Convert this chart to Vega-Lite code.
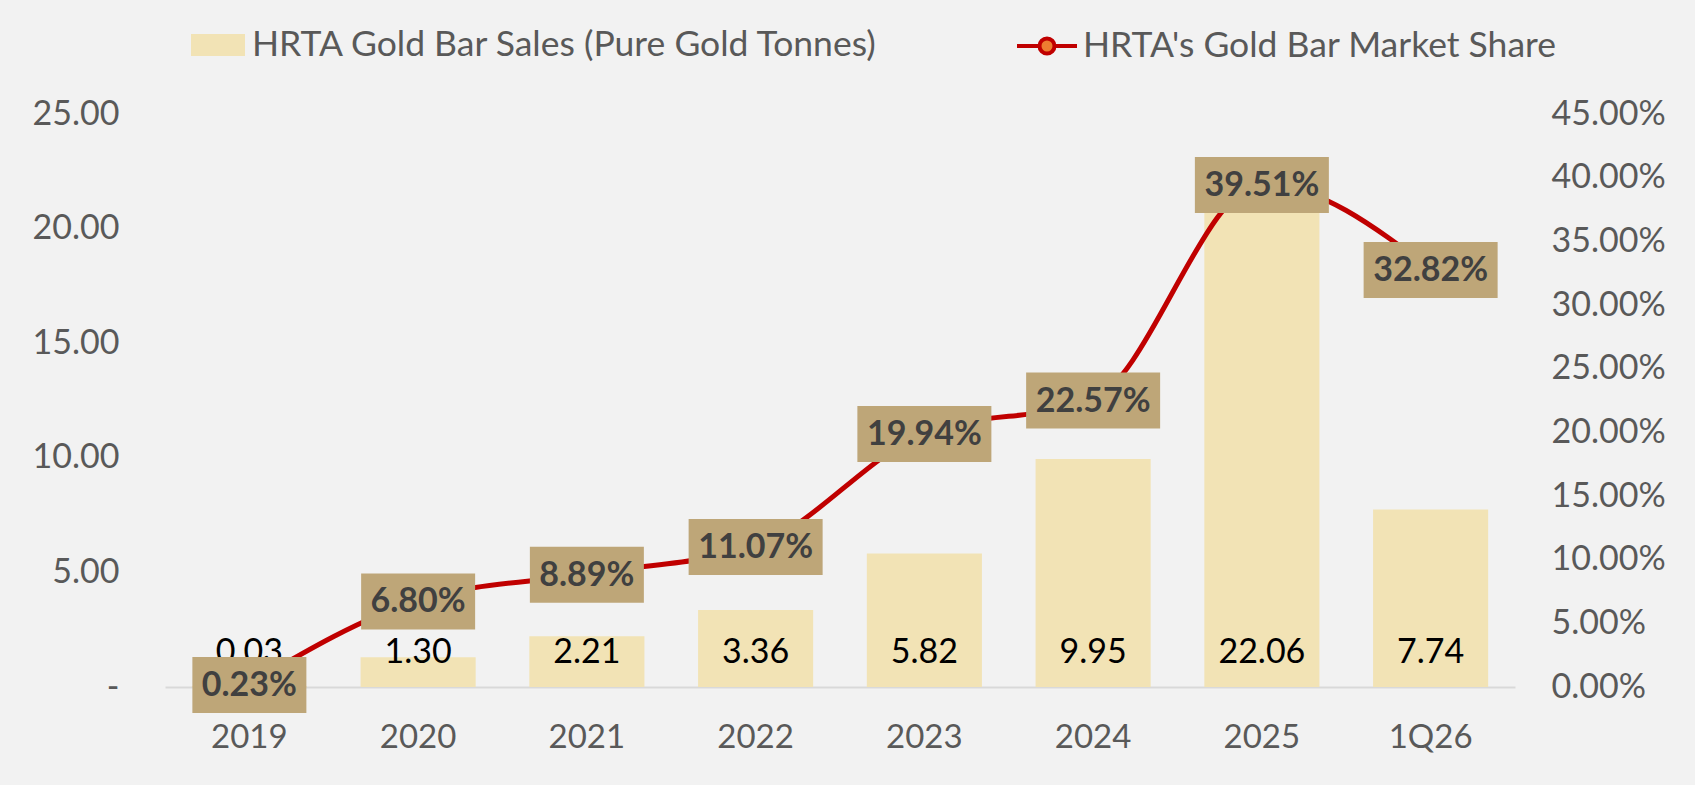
{
  "$schema": "https://vega.github.io/schema/vega-lite/v6.json",
  "width": 1350,
  "height": 573,
  "autosize": {"type": "none"},
  "padding": {"left": 165, "top": 114, "right": 180, "bottom": 98},
  "background": "#f2f2f2",
  "config": {
    "font": "Lato",
    "view": {"stroke": null},
    "axis": {"grid": false, "ticks": false, "tickSize": 0, "labelFont": "Lato", "labelColor": "#595959", "title": null}
  },
  "data": {
    "values": [
      {"period": "2019", "tonnes": 0.03, "share": 0.0023},
      {"period": "2020", "tonnes": 1.30, "share": 0.0680},
      {"period": "2021", "tonnes": 2.21, "share": 0.0889},
      {"period": "2022", "tonnes": 3.36, "share": 0.1107},
      {"period": "2023", "tonnes": 5.82, "share": 0.1994},
      {"period": "2024", "tonnes": 9.95, "share": 0.2257},
      {"period": "2025", "tonnes": 22.06, "share": 0.3951},
      {"period": "1Q26", "tonnes": 7.74, "share": 0.3282}
    ]
  },
  "encoding": {
    "x": {
      "field": "period",
      "type": "ordinal",
      "sort": null,
      "scale": {"paddingInner": 0.318, "paddingOuter": 0.159},
      "axis": {"labelAngle": 0, "labelFontSize": 33, "labelPadding": 34, "domainColor": "#d9d9d9", "domainWidth": 2}
    }
  },
  "layer": [
    {
      "layer": [
        {
          "mark": {"type": "bar", "color": "#f2e3b5"},
          "encoding": {
            "y": {
              "field": "tonnes",
              "type": "quantitative",
              "scale": {"domain": [0, 25], "nice": false},
              "axis": {
                "values": [0, 5, 10, 15, 20, 25],
                "labelExpr": "datum.value == 0 ? '-\u00a0\u00a0\u00a0' : format(datum.value, '.2f')",
                "labelFontSize": 34,
                "labelPadding": 46,
                "domain": false
              }
            },
            "color": {
              "datum": "HRTA Gold Bar Sales (Pure Gold Tonnes)",
              "type": "nominal",
              "scale": {"range": ["#f2e3b5"]},
              "legend": {
                "orient": "none",
                "legendX": 26,
                "legendY": -96,
                "title": null,
                "padding": 0,
                "symbolType": "M-1,-0.41H1V0.41H-1Z",
                "symbolSize": 2916,
                "symbolStrokeWidth": 0,
                "symbolOpacity": 1,
                "labelFont": "Lato",
                "labelFontSize": 35.5,
                "labelColor": "#595959",
                "labelLimit": 1000,
                "labelOffset": 7
              }
            }
          }
        },
        {
          "mark": {"type": "text", "font": "Lato", "fontSize": 34, "color": "#000000", "baseline": "alphabetic", "dy": -24},
          "encoding": {
            "y": {"datum": 0, "type": "quantitative"},
            "text": {"field": "tonnes", "type": "quantitative", "format": ".2f"}
          }
        }
      ]
    },
    {
      "layer": [
        {
          "mark": {"type": "line", "color": "#c00000", "strokeWidth": 5, "interpolate": "monotone"},
          "encoding": {
            "y": {
              "field": "share",
              "type": "quantitative",
              "scale": {"domain": [0, 0.45], "nice": false},
              "axis": {
                "orient": "right",
                "values": [0, 0.05, 0.1, 0.15, 0.2, 0.25, 0.3, 0.35, 0.4, 0.45],
                "format": ".2%",
                "labelFontSize": 34,
                "labelPadding": 36,
                "domain": false
              }
            },
            "stroke": {
              "datum": "HRTA's Gold Bar Market Share",
              "type": "nominal",
              "scale": {"range": ["#c00000"]},
              "legend": {
                "orient": "none",
                "legendX": 850,
                "legendY": -100,
                "title": null,
                "padding": 0,
                "symbolType": "M-1,0H-0.25M0.25,0H1M0.25,0A0.25,0.25 0 1,1 -0.25,0A0.25,0.25 0 1,1 0.25,0Z",
                "symbolSize": 3600,
                "symbolStrokeWidth": 4,
                "labelFont": "Lato",
                "labelFontSize": 35.5,
                "labelColor": "#595959",
                "labelLimit": 1000,
                "labelOffset": 4,
                "encode": {
                  "symbols": {
                    "update": {
                      "fill": {"value": "#ed7d31"},
                      "stroke": {"value": "#c00000"},
                      "strokeWidth": {"value": 4},
                      "opacity": {"value": 1}
                    }
                  }
                }
              }
            }
          }
        },
        {
          "transform": [{"filter": "datum.share < 0.1"}],
          "mark": {"type": "bar", "color": "#bea678", "width": 114, "yOffset": -27, "y2Offset": 29},
          "encoding": {
            "y": {"field": "share", "type": "quantitative"},
            "y2": {"field": "share"}
          }
        },
        {
          "transform": [{"filter": "datum.share >= 0.1"}],
          "mark": {"type": "bar", "color": "#bea678", "width": 134, "yOffset": -27, "y2Offset": 29},
          "encoding": {
            "y": {"field": "share", "type": "quantitative"},
            "y2": {"field": "share"}
          }
        },
        {
          "mark": {"type": "text", "font": "Lato", "fontSize": 34, "fontWeight": "bold", "color": "#404040", "baseline": "middle", "dy": 2},
          "encoding": {
            "y": {"field": "share", "type": "quantitative"},
            "text": {"field": "share", "type": "quantitative", "format": ".2%"}
          }
        }
      ]
    }
  ],
  "resolve": {"scale": {"y": "independent"}}
}
